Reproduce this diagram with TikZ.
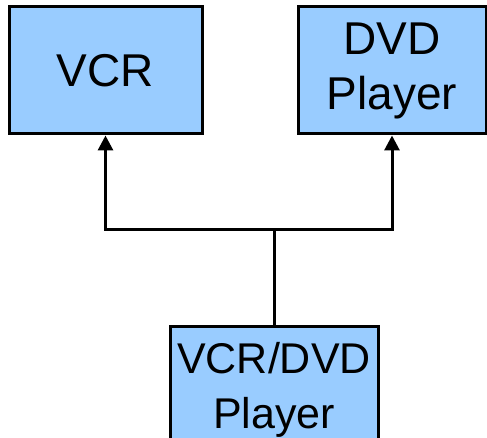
\documentclass[tikz,border=0pt]{standalone}
\usepackage{fontspec}
\setmainfont{Liberation Sans}
\usetikzlibrary{arrows.meta,positioning,calc}
\definecolor{boxfill}{HTML}{99CCFF}

\begin{document}
\begin{tikzpicture}[x=1pt,y=1pt,
  box/.style={draw,line width=3pt,fill=boxfill,align=center,inner sep=0pt,
    font=\fontsize{46}{55}\selectfont},
  arrow/.style={-{Triangle[length=15pt,width=15pt]},line width=3pt}
]
\useasboundingbox (0,0) rectangle (487,438);
\node[box,minimum width=193pt,minimum height=127pt] (vcr) at (105.5,367.5) {VCR};
\node[box,minimum width=188pt,minimum height=127pt] (dvd) at (392,367.5) {DVD\\Player};
\node[box,minimum width=208pt,minimum height=126pt,font=\fontsize{43}{55}\selectfont]
  (combo) at (274,48) {VCR/DVD\\Player};
\coordinate (split) at (274,208);
\draw[line width=3pt] (combo.north) -- (split);
\draw[arrow] (split) -| (vcr.south);
\draw[arrow] (split) -| (dvd.south);
\end{tikzpicture}
\end{document}
